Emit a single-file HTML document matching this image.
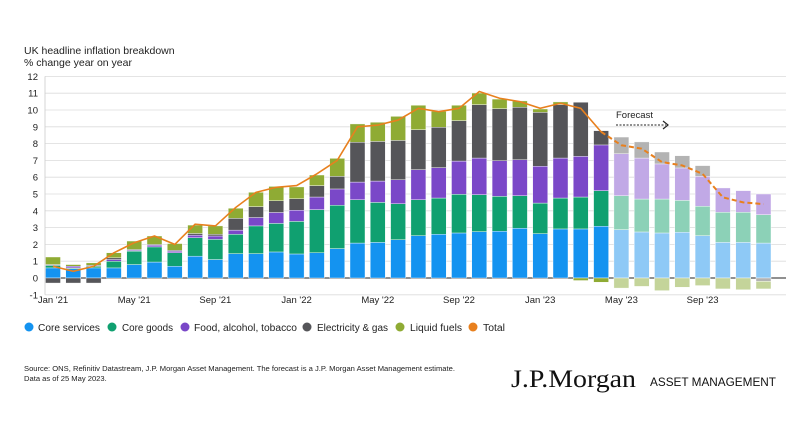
<!DOCTYPE html>
<html><head><meta charset="utf-8"><style>
body{margin:0;background:#fff;width:800px;height:418px;overflow:hidden;font-family:"Liberation Sans",sans-serif}
svg text{font-family:"Liberation Sans",sans-serif}
</style></head><body>
<svg id="chart" width="800" height="418" xmlns="http://www.w3.org/2000/svg">
<text x="24" y="54" font-size="10.5" fill="#222">UK headline inflation breakdown</text>
<text x="24" y="66" font-size="10.5" fill="#222">% change year on year</text>
<g id="grid"></g><g id="bars"></g><g id="lines"></g><g id="axes"></g>
<text x="616" y="118" font-size="9.5" fill="#222">Forecast</text>
<line x1="616" y1="125" x2="666" y2="125" stroke="#222" stroke-width="1" stroke-dasharray="2,1.5"/>
<path d="M663,121 L668,125 L663,129" fill="none" stroke="#222" stroke-width="1.2"/>
<g id="legend"></g>
<text x="24" y="371" font-size="7.6" fill="#222">Source: ONS, Refinitiv Datastream, J.P. Morgan Asset Management. The forecast is a J.P. Morgan Asset Management estimate.</text>
<text x="24" y="381" font-size="7.6" fill="#222">Data as of 25 May 2023.</text>
<text x="511" y="387" font-size="25" fill="#111" style="font-family:'Liberation Serif',serif" textLength="125" lengthAdjust="spacingAndGlyphs">J.P.Morgan</text>
<text x="650" y="386" font-size="12" fill="#111" textLength="126" lengthAdjust="spacingAndGlyphs">ASSET MANAGEMENT</text>
</svg>
<script>
const months=["Jan '21","Feb","Mar","Apr","May '21","Jun","Jul","Aug","Sep '21","Oct","Nov","Dec","Jan '22","Feb","Mar","Apr","May '22","Jun","Jul","Aug","Sep '22","Oct","Nov","Dec","Jan '23","Feb","Mar","Apr","May '23","Jun","Jul","Aug","Sep '23","Oct","Nov","Dec"];
const services=[0.6,0.55,0.6,0.6,0.8,0.95,0.7,1.3,1.1,1.45,1.45,1.55,1.43,1.5,1.75,2.08,2.12,2.28,2.52,2.6,2.68,2.76,2.78,2.96,2.64,2.92,2.92,3.08,2.88,2.74,2.68,2.72,2.52,2.12,2.12,2.08];
const goods=[0.15,0.05,0.1,0.4,0.8,0.9,0.8,1.1,1.2,1.15,1.65,1.7,1.94,2.57,2.58,2.58,2.38,2.14,2.14,2.16,2.3,2.2,2.08,1.94,1.82,1.84,1.9,2.12,2.02,1.96,2.02,1.9,1.75,1.79,1.79,1.69];
const food=[0.05,0.1,0.05,0.1,0.05,0.1,0.1,0.15,0.2,0.25,0.5,0.65,0.66,0.75,0.97,1.05,1.27,1.43,1.79,1.81,1.98,2.18,2.12,2.14,2.19,2.38,2.42,2.72,2.5,2.44,2.09,1.93,1.78,1.45,1.29,1.23];
const energy=[-0.3,-0.3,-0.3,0.1,0.05,0.05,0.05,0.1,0.1,0.7,0.65,0.7,0.69,0.68,0.75,2.37,2.36,2.34,2.38,2.4,2.41,3.18,3.1,3.12,3.21,3.18,3.22,0.85,0.99,0.96,0.71,0.73,0.64,0,0,-0.2];
const fuels=[0.45,0.1,0.15,0.3,0.5,0.5,0.4,0.5,0.5,0.6,0.85,0.85,0.7,0.63,1.07,1.09,1.14,1.43,1.45,0.95,0.91,0.69,0.57,0.38,0.2,0.16,-0.15,-0.25,-0.6,-0.5,-0.75,-0.55,-0.45,-0.65,-0.7,-0.45];
const total=[0.7,0.4,0.7,1.5,2.1,2.5,2.0,3.2,3.1,4.2,5.1,5.4,5.5,6.2,7.0,9.0,9.1,9.4,10.1,9.9,10.1,11.1,10.7,10.5,10.1,10.4,10.1,8.7,7.9,7.7,6.9,6.7,6.2,4.8,4.5,4.4];
const yTicks=[-1,0,1,2,3,4,5,6,7,8,9,10,11,12];
const xLabels=["Jan '21","May '21","Sep '21","Jan '22","May '22","Sep '22","Jan '23","May '23","Sep '23"];
const forecastStart=28;
const names=["Core services","Core goods","Food, alcohol, tobacco","Electricity & gas","Liquid fuels","Total"];
const colors=["#1493f0","#10a070","#7a48c8","#555559","#8fab34","#e8801e"];
const lightColors=["#8ec9f6","#8cd1b7","#c1a9e6","#b3b3b3","#c4d49a"];
const NS="http://www.w3.org/2000/svg";
const y=v=>278-v*16.8;
const x=i=>53+i*20.3;
const BW=15;
function el(t,a,p){const e=document.createElementNS(NS,t);for(const k in a)e.setAttribute(k,a[k]);document.getElementById(p).appendChild(e);return e;}
yTicks.forEach(t=>{
  const g=el('line',{x1:45,x2:786,y1:y(t),y2:y(t),stroke:t===0?'#222':'#dcdcdc','stroke-width':t===0?1:0.8},'grid');
  
  
  const l=el('text',{x:38,y:y(t)+3.5,'text-anchor':'end','font-size':9.5,fill:'#222'},'axes');
  l.textContent=t;
  
  
});
const ax=el('line',{x1:45,x2:45,y1:y(12),y2:y(-1),stroke:'#ccc','stroke-width':0.8},'axes');


months.forEach((m,i)=>{
  if(xLabels.includes(m)){
    const t=el('text',{x:x(i),y:303,'text-anchor':'middle','font-size':9.5,fill:'#222'},'axes');
    t.textContent=m;
    
    
  }
});
const series=[services,goods,food,energy,fuels];
months.forEach((m,i)=>{
  let pos=0,neg=0;
  series.forEach((s,k)=>{
    const v=s[i];if(v===0)return;
    let y0,y1;
    if(v>0){y0=pos;pos+=v;y1=pos;}else{y0=neg;neg+=v;y1=neg;}
    const top=y(Math.max(y0,y1)),bot=y(Math.min(y0,y1));
    const r=el('rect',{x:x(i)-BW/2,y:top,width:BW,height:Math.max(0.5,bot-top),fill:i>=forecastStart?lightColors[k]:colors[k],stroke:'#fff','stroke-width':0.4},'bars');
    
    
  });
});
const solid=total.slice(0,forecastStart).map((v,i)=>x(i)+','+y(v)).join(' ');
const dashed=total.slice(forecastStart-1).map((v,j)=>x(j+forecastStart-1)+','+y(v)).join(' ');
const l1=el('polyline',{points:solid,fill:'none',stroke:colors[5],'stroke-width':1.6},'lines');


const l2=el('polyline',{points:dashed,fill:'none',stroke:colors[5],'stroke-width':2,'stroke-dasharray':'5,3'},'lines');


const lx=[29,112,185,307,400,473];
const tx=[38,122,194,317,410,483];
const lw=[62,51,103,71,52,22];
names.forEach((n,k)=>{
  const c=el('circle',{cx:lx[k],cy:327,r:4.5,fill:colors[k]},'legend');
  
  
  const t=el('text',{x:tx[k],y:331,'font-size':10,fill:'#222',textLength:lw[k],lengthAdjust:'spacingAndGlyphs'},'legend');
  t.textContent=n;
  
  
});
</script>
</body></html>
